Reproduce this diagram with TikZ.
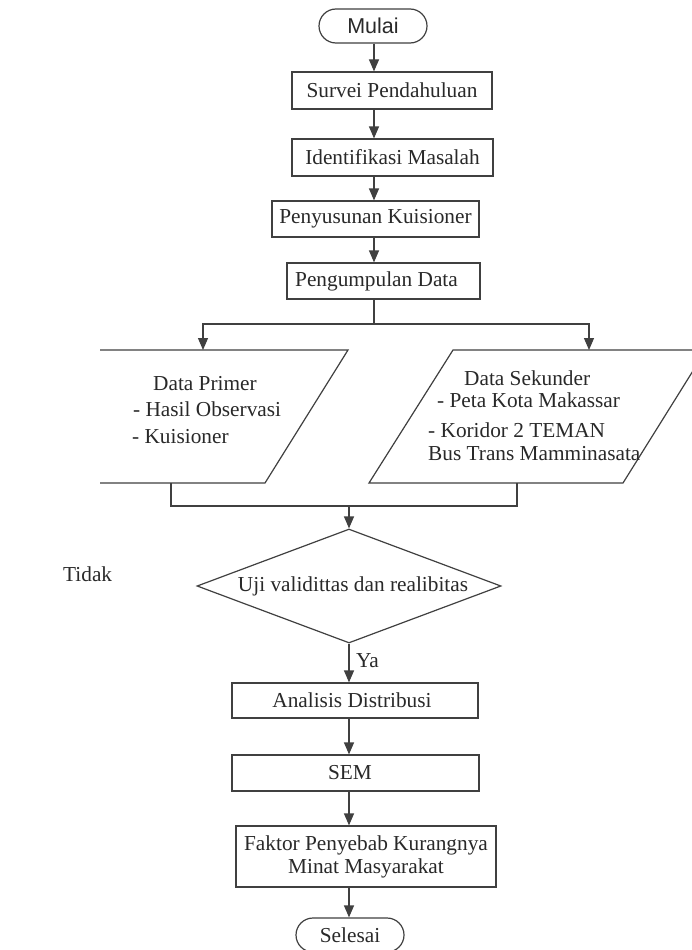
\documentclass[tikz,border=0pt]{standalone}
\usepackage{fontspec}
\setmainfont{Liberation Serif}
\newfontfamily\sansfnt{Liberation Sans}
\usetikzlibrary{arrows.meta,shapes.geometric}
\definecolor{ln}{gray}{0.25}
\definecolor{tx}{gray}{0.16}
\begin{document}
\begin{tikzpicture}[x=1pt,y=-1pt,
  every node/.style={text=tx},
  txt/.style={font=\fontsize{21.3}{23}\selectfont, inner sep=0pt},
  stepbox/.style={txt, draw=ln, line width=1.2pt, rectangle},
  term/.style={stepbox, rounded corners=17pt, minimum width=108pt, minimum height=34pt},
  conn/.style={draw=ln, line width=1.2pt},
  arr/.style={conn, -{Triangle[length=12pt,width=10pt]}},
  io/.style={draw=ln, line width=1.2pt, line join=miter},
]
\useasboundingbox (0,0) rectangle (692,950);
\fill[white] (0,0) rectangle (692,950);

\coordinate (ax) at (374,0);
\coordinate (bx) at (349,0);

% upper column
\node[term, font=\sansfnt\fontsize{21.5}{24}\selectfont] (mulai) at (373,26) {Mulai};
\node[stepbox, minimum width=200pt, minimum height=37pt] (survei) at (392,90.5) {Survei Pendahuluan};
\node[stepbox, minimum width=201pt, minimum height=37pt] (ident) at (392.5,157.5) {Identifikasi Masalah};
\node[stepbox, minimum width=207pt, minimum height=36pt] (susun) at (375.5,219) {Penyusunan Kuisioner};
\node[stepbox, minimum width=193pt, minimum height=36pt] (kumpul) at (383.5,281) {Pengumpulan Data\hspace*{14pt}};

\draw[arr] (mulai.south -| ax) -- (survei.north -| ax);
\draw[arr] (survei.south -| ax) -- (ident.north -| ax);
\draw[arr] (ident.south -| ax) -- (susun.north -| ax);
\draw[arr] (susun.south -| ax) -- (kumpul.north -| ax);

% split
\coordinate (split) at (374,324);
\coordinate (pin) at (203,350);
\coordinate (sin) at (589,350);
\draw[conn] (kumpul.south -| ax) -- (split);
\draw[arr] (split) -| (pin);
\draw[arr] (split) -| (sin);

% data primer (left parallelogram, cut at the left)
\draw[io] (100,350) -- (348,350) -- (265,483) -- (100,483);
\node[txt, anchor=base west] (primer) at (153,390) {Data Primer};
\node[txt, anchor=base west] (primer1) at (133,416) {- Hasil Observasi};
\node[txt, anchor=base west] (primer2) at (132,443) {- Kuisioner};

% data sekunder (right parallelogram, cut at the right)
\begin{scope}
\clip (0,0) rectangle (692,950);
\draw[io] (453,350) -- (706,350) -- (623,483) -- (369,483) -- cycle;
\end{scope}
\node[txt, anchor=base west] (sekunder) at (464,385) {Data Sekunder};
\node[txt, anchor=base west] (sekunder1) at (437,407) {- Peta Kota Makassar};
\node[txt, anchor=base west] (sekunder2) at (428,437) {- Koridor 2 TEMAN};
\node[txt, anchor=base west] (sekunder3) at (428,460) {Bus Trans Mamminasata};

% merge
\coordinate (pout) at (171,483);
\coordinate (sout) at (517,483);
\coordinate (merge) at (349,506);
\draw[conn] (pout) |- (merge);
\draw[conn] (sout) |- (merge);

% decision
\node[txt, diamond, draw=ln, line width=1.2pt, aspect=2.67, minimum width=304pt, minimum height=114pt] (uji) at (349,586) {\hspace*{8pt}Uji validittas dan realibitas};
\draw[arr] (merge) -- (uji.north);
\node[txt, anchor=base west] (tidak) at (63,581) {Tidak};

% lower column
\node[stepbox, minimum width=246pt, minimum height=35pt] (anal) at (355,700.5) {Analisis Distribusi\hspace*{6pt}};
\node[stepbox, minimum width=247pt, minimum height=36pt] (sem) at (355.5,773) {SEM\hspace*{11pt}};
\node[stepbox, minimum width=260pt, minimum height=61pt, align=center] (faktor) at (366,856.5) {Faktor Penyebab Kurangnya\\Minat Masyarakat};
\node[term] (selesai) at (350,935) {Selesai};

\draw[arr] (uji.south) -- (anal.north -| bx);
\node[txt, anchor=west] (ya) at (356,661) {Ya};
\draw[arr] (anal.south -| bx) -- (sem.north -| bx);
\draw[arr] (sem.south -| bx) -- (faktor.north -| bx);
\draw[arr] (faktor.south -| bx) -- (selesai.north -| bx);
\end{tikzpicture}
\end{document}
